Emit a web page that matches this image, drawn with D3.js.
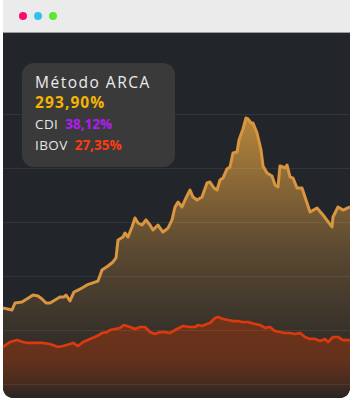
<!DOCTYPE html>
<html>
<head>
<meta charset="utf-8">
<script src="https://cdn.jsdelivr.net/npm/d3@7"></script>
<style>
  html, body { margin: 0; padding: 0; background: #ffffff; }
  svg { display: block; }
</style>
</head>
<body>
<div id="chart"></div>
<script>
// chart values (x = week index, y = return %)
var arcaT = [0, 9, 12, 19, 27, 30, 35, 39, 43, 47, 52, 57, 61, 63, 67, 71, 75, 79, 84, 92, 95, 99, 105, 110, 113, 115, 120, 122, 125, 129, 132, 135, 139, 143, 147, 150, 155, 160, 165, 169, 172, 175, 179, 182, 187, 190, 194, 199, 204, 207, 211, 214, 217, 220, 224, 227, 230, 234, 236, 240, 243, 245, 248, 250, 254, 258, 260, 264, 269, 272, 275, 277, 280, 282, 284, 287, 290, 294, 299, 302, 307, 314, 320, 329, 330, 335, 340, 347];
var arcaV = [70.4, 68.5, 75, 75.9, 80.6, 82.4, 81.5, 78.7, 75, 75, 77.8, 80.6, 80.6, 82.4, 76.9, 85.2, 87, 88.9, 91.7, 94.4, 95.4, 105.6, 109.3, 113, 116.7, 133.3, 136.1, 139.8, 136.1, 145.4, 153.7, 149.1, 147.2, 151.9, 147.2, 142.6, 147.2, 140.7, 144.4, 151.9, 163.9, 168.5, 163.9, 170.4, 179.6, 173.1, 170.4, 173.1, 186.1, 187, 181.5, 179.6, 188.9, 190.7, 199.1, 200.9, 213.9, 214.8, 225.9, 236.1, 246.3, 245.4, 241.7, 241.7, 232.4, 216.7, 201.9, 195.4, 192.6, 184.3, 182.4, 201.9, 200.9, 200, 202.8, 191.7, 190.7, 181.5, 181.5, 173.1, 159.3, 163, 156.5, 145.4, 154.6, 163.9, 161.1, 163.9];

var ibovT = [0, 7, 14, 20, 25, 30, 40, 47, 55, 60, 67, 70, 75, 80, 87, 94, 99, 104, 107, 112, 117, 121, 127, 132, 137, 142, 147, 152, 157, 162, 167, 174, 180, 187, 192, 195, 199, 204, 207, 212, 215, 220, 230, 235, 239, 245, 252, 257, 262, 267, 272, 277, 282, 287, 292, 297, 302, 307, 312, 317, 322, 325, 330, 335, 340, 347];
var ibovV = [34.3, 38.9, 40.7, 38.9, 38, 38, 38, 37, 34.3, 35.2, 37, 38, 35.2, 38.9, 41.7, 44.4, 47.2, 48.1, 50, 50.9, 51.9, 54.6, 52.8, 50.9, 52.8, 52.8, 48.1, 46.3, 48.1, 48.1, 47.2, 50.9, 53.7, 52.8, 52.8, 54.6, 53.7, 55.6, 56.5, 61.1, 62, 60.2, 58.3, 58.3, 57.4, 57.4, 55.6, 54.6, 51.9, 52.8, 49.1, 48.1, 47.2, 47.2, 46.3, 47.2, 43.5, 41.7, 41.7, 39.8, 41.7, 38.9, 43.5, 43.5, 40.7, 40.7];

var gridValues = [0, 50, 100, 150, 200, 250];

var tipTitle = "Método ARCA";
var tipMain = "293,90%";
var tipRows = [["CDI", "38,12%", "#b01cf5"], ["IBOV", "27,35%", "#ff3a12"]];

var W = 353, H = 400;
var cardL = 3, cardR = 350, cardT = 33, cardB = 398;

var svg = d3.select("#chart").append("svg")
    .attr("width", W)
    .attr("height", H);

var defs = svg.append("defs");

// card clip (rounded bottom corners)
defs.append("clipPath").attr("id", "card")
  .append("path")
    .attr("d", "M" + cardL + "," + cardT + "H" + cardR + "V" + (cardB - 12) +
      "Q" + cardR + "," + cardB + " " + (cardR - 12) + "," + cardB +
      "H" + (cardL + 12) + "Q" + cardL + "," + cardB + " " + cardL + "," + (cardB - 12) + "Z");

// window header
svg.append("rect")
    .attr("x", cardL).attr("y", 0)
    .attr("width", cardR - cardL).attr("height", cardT)
    .attr("fill", "#ebebeb");
svg.append("line")
    .attr("x1", cardL).attr("x2", cardR)
    .attr("y1", 32.5).attr("y2", 32.5)
    .attr("stroke", "#9c9c9c");

svg.selectAll("circle.dot")
    .data(["#ff0a6c", "#2bc3e6", "#5ae82c"])
    .enter().append("circle")
    .attr("class", "dot")
    .attr("cx", function(d, i) { return 23 + i * 15; })
    .attr("cy", 16)
    .attr("r", 4)
    .attr("fill", function(d) { return d; });

var g = svg.append("g").attr("clip-path", "url(#card)");

g.append("rect")
    .attr("x", cardL).attr("y", cardT)
    .attr("width", cardR - cardL).attr("height", cardB - cardT)
    .attr("fill", "#222529");

var x = d3.scaleLinear().domain([0, 347]).range([cardL, cardR]);
var y = d3.scaleLinear().domain([0, 50]).range([384, 330]);

// gradients
var gGold = defs.append("linearGradient").attr("id", "gold")
    .attr("gradientUnits", "userSpaceOnUse")
    .attr("x1", 0).attr("x2", 0).attr("y1", 118).attr("y2", cardB);
gGold.append("stop").attr("offset", "0%").attr("stop-color", "#b6853b");
gGold.append("stop").attr("offset", "47%").attr("stop-color", "#5b4931");
gGold.append("stop").attr("offset", "76%").attr("stop-color", "#37312a");
gGold.append("stop").attr("offset", "100%").attr("stop-color", "#28262a");

var gRed = defs.append("linearGradient").attr("id", "red")
    .attr("gradientUnits", "userSpaceOnUse")
    .attr("x1", 0).attr("x2", 0).attr("y1", 317).attr("y2", cardB);
gRed.append("stop").attr("offset", "0%").attr("stop-color", "#70331a");
gRed.append("stop").attr("offset", "55%").attr("stop-color", "#62311c");
gRed.append("stop").attr("offset", "82%").attr("stop-color", "#472b20");
gRed.append("stop").attr("offset", "100%").attr("stop-color", "#272525");

var area = d3.area()
    .x(function(d) { return x(d[0]); })
    .y0(cardB)
    .y1(function(d) { return y(d[1]); });

var line = d3.line()
    .x(function(d) { return x(d[0]); })
    .y(function(d) { return y(d[1]); });

var arca = d3.zip(arcaT, arcaV);
var ibov = d3.zip(ibovT, ibovV);

g.append("path").datum(arca).attr("d", area).attr("fill", "url(#gold)");
g.append("path").datum(ibov).attr("d", area).attr("fill", "url(#red)");

// grid lines on top of the fills
g.selectAll("line.grid")
    .data(gridValues)
    .enter().append("line")
    .attr("class", "grid")
    .attr("x1", cardL).attr("x2", cardR)
    .attr("y1", function(d) { return Math.round(y(d)) + 0.5; })
    .attr("y2", function(d) { return Math.round(y(d)) + 0.5; })
    .attr("stroke", "#ffffff")
    .attr("stroke-opacity", 0.07);

g.append("path").datum(arca).attr("d", line)
    .attr("fill", "none")
    .attr("stroke", "#d9953f")
    .attr("stroke-width", 3)
    .attr("stroke-linejoin", "round");

g.append("path").datum(ibov).attr("d", line)
    .attr("fill", "none")
    .attr("stroke", "#dc3a0e")
    .attr("stroke-width", 2.7)
    .attr("stroke-linejoin", "round");

// tooltip
var tip = svg.append("g");
tip.append("rect")
    .attr("x", 22).attr("y", 63)
    .attr("width", 153).attr("height", 104)
    .attr("rx", 12)
    .attr("fill", "#3a3a3b");

var font = "'Open Sans', Lato, sans-serif";
tip.append("text")
    .attr("x", 35).attr("y", 88)
    .attr("font-family", font).attr("font-size", 15.5)
    .attr("letter-spacing", 1.5)
    .attr("fill", "#ececec")
    .text(tipTitle);
tip.append("text")
    .attr("x", 35).attr("y", 108)
    .attr("font-family", font).attr("font-size", 15.5).attr("font-weight", 700)
    .attr("letter-spacing", 1.1)
    .attr("fill", "#f6b400")
    .text(tipMain);

tipRows.forEach(function(r, i) {
  var t = tip.append("text")
      .attr("x", 35).attr("y", 129 + i * 21)
      .attr("font-family", font).attr("font-size", 13.5);
  t.append("tspan").attr("fill", "#e6e6e6").attr("letter-spacing", 0.4).text(r[0]);
  t.append("tspan").attr("dx", 7).attr("fill", r[2]).attr("font-weight", 700).text(r[1]);
});
</script>
</body>
</html>
